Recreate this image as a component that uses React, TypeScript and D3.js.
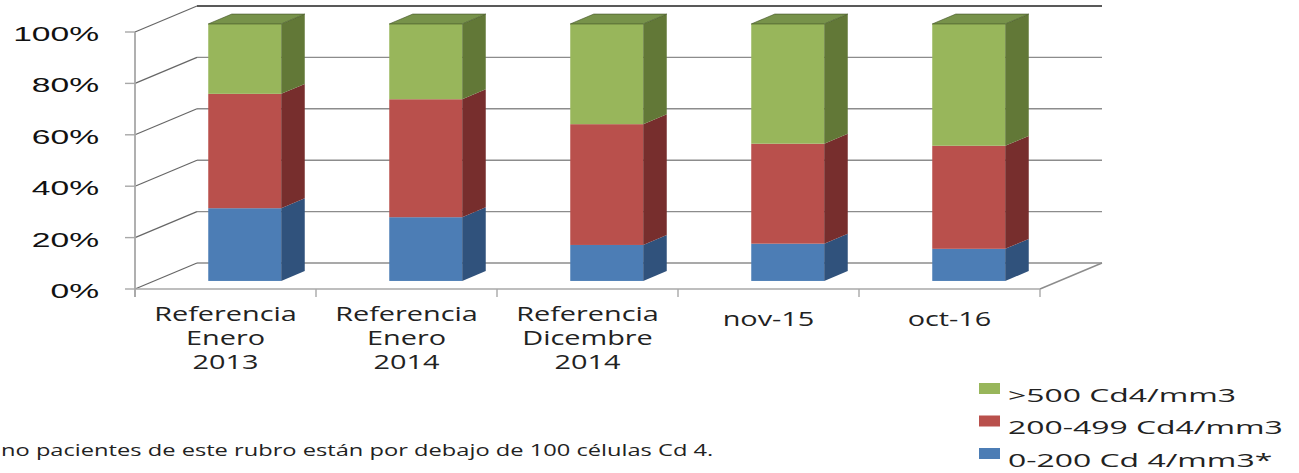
import React from "react";
import * as d3 from "d3";

// chart values (percent of patients per CD4 range)
const categories = ["Referencia\nEnero\n2013", "Referencia\nEnero\n2014", "Referencia\nDicembre\n2014", "nov-15", "oct-16"];
const low = [28.3, 24.8, 14.0, 14.5, 12.5];   // 0-200 Cd 4/mm3*
const mid = [44.5, 45.9, 47.0, 38.9, 40.1];   // 200-499 Cd4/mm3
const high = [27.2, 29.3, 39.0, 46.6, 47.4];  // >500 Cd4/mm3
const seriesNames = ["0-200 Cd 4/mm3*", "200-499 Cd4/mm3", ">500 Cd4/mm3"];
const yTicks = [0, 20, 40, 60, 80, 100];
const footnote = "no pacientes de este rubro están por debajo de 100 células Cd 4.";

const W = 1299, H = 473;
const DX = 62, DY = -26; // depth of the 3d box
const F0 = 0.31, F1 = 0.69; // where the bars sit inside the depth

const colors = [
  { front: "#4C7DB5", side: "#30527C", top: "#3D6699" },
  { front: "#B9504C", side: "#772E2D", top: "#94403D" },
  { front: "#98B65B", side: "#627837", top: "#77924A" },
];

export default function App() {
  const x = d3.scaleBand<number>().domain(d3.range(categories.length)).range([135, 1040]).paddingInner(0);
  const y = d3.scaleLinear().domain([0, 100]).range([289, 32]);

  const rows = categories.map((c, i) => ({ i, low: low[i], mid: mid[i], high: high[i] }));
  const stack = d3.stack<any>().keys(["low", "mid", "high"])(rows);

  const bw = x.bandwidth();
  const barW = bw * 0.403;
  const ox = F0 * DX, oy = F0 * DY;
  const bdx = (F1 - F0) * DX, bdy = (F1 - F0) * DY;

  const grid = "#8C8C8C";

  return (
    <svg width={W} height={H} style={{ position: "absolute", left: 0, top: 0, background: "#fff" }}>
      {/* back wall gridlines */}
      {yTicks.map((t) => (
        <line key={"bg" + t} x1={135 + DX} x2={1040 + DX} y1={y(t) + DY} y2={y(t) + DY}
          stroke={t === 100 ? "#222" : grid} strokeWidth={t === 100 ? 1.6 : 1.4} />
      ))}
      {/* left wall diagonals */}
      {yTicks.map((t) => (
        <line key={"lw" + t} x1={135} x2={135 + DX} y1={y(t)} y2={y(t) + DY} stroke="#666" strokeWidth={1.2} />
      ))}
      {/* floor */}
      <line x1={1040} x2={1040 + DX} y1={y(0)} y2={y(0) + DY} stroke={grid} strokeWidth={1.4} />
      <line x1={135} x2={1040} y1={y(0)} y2={y(0)} stroke="#A8A8A8" strokeWidth={1.6} />
      {/* y axis */}
      <line x1={135} x2={135} y1={y(100)} y2={y(0) + 8} stroke="#A8A8A8" strokeWidth={1.8} />
      {yTicks.map((t) => (
        <line key={"tk" + t} x1={125} x2={135} y1={y(t)} y2={y(t)} stroke="#A8A8A8" strokeWidth={1.4} />
      ))}
      {d3.range(categories.length + 1).map((k) => {
        const xx = 135 + k * bw;
        return <line key={"ct" + k} x1={xx} x2={xx} y1={y(0)} y2={y(0) + 8} stroke="#A8A8A8" strokeWidth={1.4} />;
      })}

      {/* bars */}
      {stack.map((layer, s) =>
        layer.map((d, i) => {
          const x0 = (x(i) as number) + (bw - barW) / 2 + ox;
          const x1 = x0 + barW;
          const yt = y(d[1]) + oy;
          const yb = y(d[0]) + oy;
          const c = colors[s];
          return (
            <g key={s + "-" + i}>
              <rect x={x0} y={yt} width={barW} height={yb - yt} fill={c.front} />
              <polygon points={`${x1},${yt} ${x1 + bdx},${yt + bdy} ${x1 + bdx},${yb + bdy} ${x1},${yb}`} fill={c.side} />
              {s === stack.length - 1 && (
                <polygon points={`${x0},${yt} ${x1},${yt} ${x1 + bdx},${yt + bdy} ${x0 + bdx},${yt + bdy}`}
                  fill={c.top} stroke="#3E4F22" strokeWidth={0.6} />
              )}
            </g>
          );
        })
      )}

      {/* y labels */}
      {yTicks.map((t) => (
        <text key={"yl" + t} transform={`translate(99,${y(t) + 9}) scale(1.68,1)`} textAnchor="end"
          fontFamily="Liberation Sans, Arial, sans-serif" fontSize={20} fill="#111">
          {t + "%"}
        </text>
      ))}

      {/* category labels */}
      {categories.map((c, i) => {
        const lines = c.split("\n");
        return (
          <text key={"cl" + i} transform={`translate(${(x(i) as number) + bw / 2},${lines.length > 1 ? 321 : 326}) scale(1.48,1)`}
            textAnchor="middle" fontFamily="Open Sans, sans-serif" fontSize={19.5} fill="#222">
            {lines.map((line, k) => (
              <tspan key={k} x={0} dy={k === 0 ? 0 : 24}>{line}</tspan>
            ))}
          </text>
        );
      })}

      {/* legend */}
      {[2, 1, 0].map((s, k) => (
        <g key={"lg" + s} transform={`translate(979,${383 + k * 32.5})`}>
          <rect x={0} y={0} width={21} height={11} fill={colors[s].front} />
          <text transform={`translate(29,18.5) scale(1.68,1)`} fontFamily="Open Sans, sans-serif" fontSize={19} fill="#222">
            {seriesNames[s]}
          </text>
        </g>
      ))}

      {/* footnote */}
      <text transform="translate(1,456) scale(1.48,1)" fontFamily="Open Sans, sans-serif" fontSize={16} fill="#222">
        {footnote}
      </text>
    </svg>
  );
}
